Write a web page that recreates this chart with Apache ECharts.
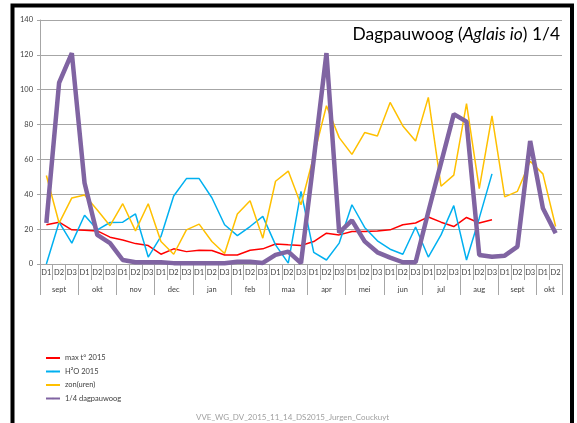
<!DOCTYPE html>
<html>
<head>
<meta charset="utf-8">
<script src="https://cdn.jsdelivr.net/npm/echarts@6/dist/echarts.min.js"></script>
<style>
  html, body { margin: 0; padding: 0; background: #fff; }
  #chart { width: 577px; height: 423px; }
</style>
</head>
<body>
<div id="chart"></div>
<script>
// months and how many decades (D1..D3) each one has
const months = ['sept', 'okt', 'nov', 'dec', 'jan', 'feb', 'maa', 'apr', 'mei', 'jun', 'jul', 'aug', 'sept', 'okt'];
const monthDecades = [3, 3, 3, 3, 3, 3, 3, 3, 3, 3, 3, 3, 3, 2];

const maxTemp = [22.5, 24, 19.6, 19.4, 19, 15.4, 13.8, 11.7, 10.6, 5.6, 8.7, 7.1, 7.9, 7.7, 5.2, 5.2, 7.9, 8.7, 11.5, 11,
  10.6, 12.9, 17.7, 16.7, 18.7, 18.7, 19, 19.6, 22.5, 23.5, 27, 24, 21.5, 26.7, 23.5, 25.4, null, null, null, null, null];
const water = [0, 24, 12, 28, 19.6, 23.8, 24, 28.7, 4, 15.8, 39, 49, 49, 38, 22.5, 16.3, 21.5, 27.3, 11, 0.5,
  41.7, 6.7, 2.3, 12, 34, 21, 13.3, 8.5, 5.6, 21.2, 4, 16.7, 33.5, 2.3, 26.3, 51.7, null, null, null, null, null];
const sun = [50.8, 23.5, 37.9, 39.6, 31, 22, 34.6, 19, 34.6, 12.9, 5.6, 19.6, 22.9, 12.9, 6, 28.7, 36.3, 14.8, 47.5, 53.3,
  34, 62, 90.8, 72.5, 62.9, 75.4, 73.5, 92.7, 79.2, 70.6, 95.6, 44.6, 51, 92, 43.3, 85, 38.5, 41.7, 59, 51.7, 21.5];
const peacock = [23.5, 104, 121, 46.5, 16.7, 12, 2.3, 1, 1, 1, 0.5, 0.4, 0.4, 0.4, 0.4, 1.3, 1.3, 0.6, 5.2, 7.1,
  0.5, 60, 121, 18, 25, 13, 6.7, 3.7, 1, 1, 30, 58, 86, 81.7, 5.2, 4.2, 4.8, 10, 70.6, 32, 17.7];

const seriesNames = ['max t° 2015', 'H²O 2015', 'zon(uren)', '1/4 dagpauwoog'];

// build the two-level category labels
const decadeCats = [];
const monthCats = [];
const monthStarts = [];
months.forEach((m, k) => {
  const n = monthDecades[k];
  monthStarts.push(decadeCats.length);
  for (let d = 0; d < n; d++) {
    decadeCats.push('D' + (d + 1));
    if (n === 3) monthCats.push(d === 1 ? m : '');
    else monthCats.push(d === 0 ? '{shift|' + m + '}' : '');
  }
});

const font = 'Lato, "Open Sans", sans-serif';
const gray = '#a6a6a6';

const chart = echarts.init(document.getElementById('chart'));

const option = {
  backgroundColor: '#fff',
  animation: false,
  title: [{
    text: '{a|Dagpauwoog (}{b|Aglais io}{a|) 1/4}',
    right: 12,
    top: 21,
    textStyle: {
      fontWeight: 'normal',
      rich: {
        a: { fontSize: 17.4, fontFamily: font, color: '#000', fontWeight: 'normal' },
        b: { fontSize: 17.4, fontFamily: font, color: '#000', fontWeight: 'normal', fontStyle: 'italic' }
      }
    }
  }, {
    text: 'VVE_WG_DV_2015_11_14_DS2015_Jurgen_Couckuyt',
    left: 191,
    top: 408,
    textStyle: { fontSize: 8, fontFamily: font, color: '#a0a0a0', fontWeight: 'normal' }
  }],
  graphic: [{
    type: 'rect',
    shape: { x: 12.5, y: 5.5, width: 559.5, height: 440 },
    style: { fill: 'none', stroke: '#000', lineWidth: 4 },
    silent: true
  }],
  legend: {
    orient: 'vertical',
    left: 40,
    top: 349,
    itemWidth: 14,
    itemHeight: 2,
    itemGap: 5.5,
    data: seriesNames,
    textStyle: { fontSize: 7.5, fontFamily: font, color: '#404040' }
  },
  grid: { left: 40, right: 15, top: 20, bottom: 159 },
  xAxis: [{
    type: 'category',
    data: decadeCats,
    axisLine: { lineStyle: { color: gray } },
    axisTick: { show: true, interval: 0, length: 16, lineStyle: { color: gray } },
    axisLabel: { interval: 0, margin: 5, fontSize: 7.5, fontFamily: font, color: '#404040' }
  }, {
    type: 'category',
    data: monthCats,
    position: 'bottom',
    axisLine: { show: false },
    axisTick: {
      show: true,
      length: 31,
      interval: (idx) => monthStarts.indexOf(idx) >= 0,
      lineStyle: { color: gray }
    },
    axisLabel: {
      interval: 0,
      margin: 22,
      fontSize: 7.5,
      fontFamily: font,
      color: '#404040',
      rich: { shift: { padding: [0, 0, 0, 13], fontSize: 7.5, fontFamily: font, color: '#404040' } }
    }
  }],
  yAxis: {
    type: 'value',
    min: 0,
    max: 140,
    interval: 20,
    axisLine: { show: true, lineStyle: { color: gray } },
    axisTick: { show: true, length: 3, lineStyle: { color: gray } },
    splitLine: { lineStyle: { color: gray, width: 1 } },
    axisLabel: { margin: 7, fontSize: 7.5, fontFamily: font, color: '#404040' }
  },
  series: [
    { name: seriesNames[0], type: 'line', data: maxTemp, symbol: 'none', color: '#ff0000',
      lineStyle: { width: 1.5, color: '#ff0000' } },
    { name: seriesNames[1], type: 'line', data: water, symbol: 'none', color: '#00b0f0',
      lineStyle: { width: 1.5, color: '#00b0f0' } },
    { name: seriesNames[2], type: 'line', data: sun, symbol: 'none', color: '#ffc000',
      lineStyle: { width: 1.5, color: '#ffc000' } },
    { name: seriesNames[3], type: 'line', data: peacock, symbol: 'none', color: '#8064a2',
      lineStyle: { width: 4.5, color: '#8064a2' } }
  ]
};

chart.setOption(option);
</script>
</body>
</html>
